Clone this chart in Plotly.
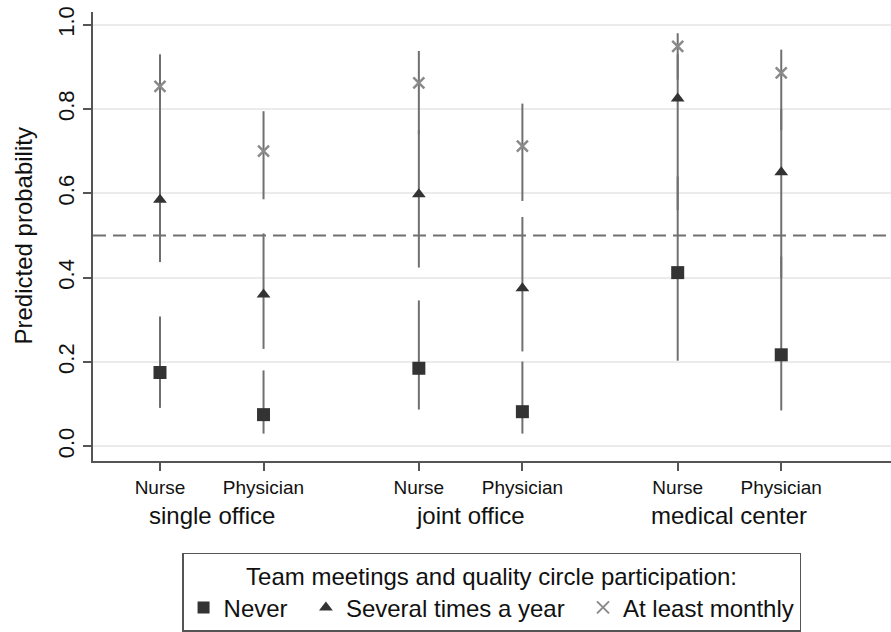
import plotly.graph_objects as go

# ---- data ----
positions = [1, 2, 3.5, 4.5, 6, 7]
roles = ["Nurse", "Physician", "Nurse", "Physician", "Nurse", "Physician"]
groups = ["single office", "joint office", "medical center"]
group_centers = [1.5, 4.0, 6.5]

never = [0.175, 0.075, 0.185, 0.082, 0.412, 0.217]
never_lo = [0.091, 0.030, 0.087, 0.030, 0.203, 0.085]
never_hi = [0.308, 0.180, 0.346, 0.201, 0.640, 0.450]

several = [0.585, 0.360, 0.598, 0.375, 0.825, 0.650]
several_lo = [0.437, 0.231, 0.424, 0.225, 0.560, 0.400]
several_hi = [0.720, 0.505, 0.750, 0.544, 0.930, 0.800]

monthly = [0.854, 0.700, 0.862, 0.712, 0.949, 0.886]
monthly_lo = [0.700, 0.586, 0.740, 0.582, 0.870, 0.750]
monthly_hi = [0.930, 0.795, 0.938, 0.813, 0.980, 0.941]

series_names = ["Never", "Several times a year", "At least monthly"]
legend_title = "Team meetings and quality circle participation:"
y_title = "Predicted probability"
reference_line = 0.5
y_ticks = [0.0, 0.2, 0.4, 0.6, 0.8, 1.0]

FONT = "Liberation Sans, Arial, sans-serif"
CI_COLOR = "#707070"
TXT = "#111111"
SPACER = "\u00a0\u00a0"  # visual gap between legend entries

fig = go.Figure()

# confidence interval lines (drawn first so markers sit on top)
for lo_arr, hi_arr in [(never_lo, never_hi), (several_lo, several_hi), (monthly_lo, monthly_hi)]:
    xs, ys = [], []
    for p, lo, hi in zip(positions, lo_arr, hi_arr):
        xs += [p, p, None]
        ys += [lo, hi, None]
    fig.add_trace(go.Scatter(x=xs, y=ys, mode="lines", showlegend=False,
                             line=dict(color=CI_COLOR, width=2), hoverinfo="skip"))

# reference line
fig.add_hline(y=reference_line, line=dict(color="#707070", width=2, dash="13px,7px"))

fig.add_trace(go.Scatter(x=positions, y=never, mode="markers", name=series_names[0] + SPACER,
                         marker=dict(symbol="square", size=13, color="#333333",
                                     line=dict(width=0))))
fig.add_trace(go.Scatter(x=positions, y=several, mode="markers", name=series_names[1] + SPACER,
                         marker=dict(symbol="triangle-up", size=12, color="#333333",
                                     line=dict(width=0))))
fig.add_trace(go.Scatter(x=positions, y=monthly, mode="markers", name=series_names[2],
                         marker=dict(symbol="x-thin", size=11, color="#8a8a8a",
                                     line=dict(width=2.5, color="#8a8a8a"))))

for gx, g in zip(group_centers, groups):
    fig.add_annotation(x=gx, y=0, xref="x", yref="paper", text=g, showarrow=False,
                       yanchor="middle", yshift=-54, font=dict(size=24, color=TXT))

# y-axis title placed precisely
fig.add_annotation(x=0, y=0.5, xref="paper", yref="paper", text=y_title, showarrow=False,
                   textangle=-90, xanchor="center", yanchor="middle", xshift=-70,
                   font=dict(size=24, color=TXT))

fig.update_layout(
    width=891, height=632,
    margin=dict(l=93, r=0, t=12, b=164),
    paper_bgcolor="white", plot_bgcolor="white",
    font=dict(family=FONT, color=TXT),
    xaxis=dict(range=[0.353, 8.06], tickmode="array", tickvals=positions, ticktext=roles,
               automargin=False,
               showgrid=False, zeroline=False, showline=True, linecolor="#555555", linewidth=1.5,
               ticks="outside", ticklen=8, tickwidth=1.5, tickcolor="#555555",
               tickfont=dict(size=19, color=TXT)),
    yaxis=dict(range=[-0.035, 1.0304], tickmode="array", tickvals=y_ticks,
               ticktext=[f"{v:.1f}" for v in y_ticks], tickangle=-90,
               automargin=False,
               showgrid=True, gridcolor="#ebebeb", gridwidth=1.5, zeroline=False,
               showline=True, linecolor="#555555", linewidth=1.5,
               ticks="outside", ticklen=8, tickwidth=1.5, tickcolor="#555555",
               tickfont=dict(size=22, color=TXT)),
    legend=dict(orientation="h", x=0.1116, y=-0.204, xanchor="left", yanchor="top",
                bordercolor="#555555", borderwidth=1.5, bgcolor="white",
                font=dict(size=24, color=TXT),
                title=dict(text=legend_title, side="top center",
                           font=dict(size=24, color=TXT)),
                itemsizing="constant"),
    showlegend=True,
)

fig.write_html("out.html", config={"displayModeBar": False},
               post_script="document.body.style.margin='0px';")
